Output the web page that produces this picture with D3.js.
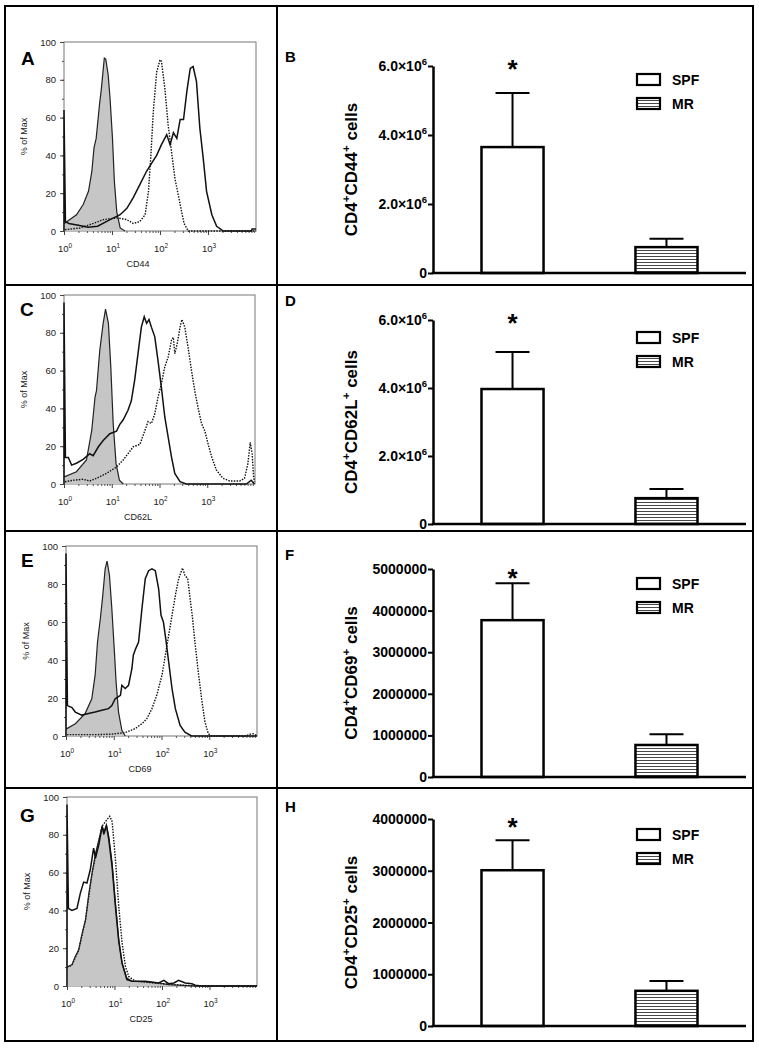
<!DOCTYPE html>
<html><head><meta charset="utf-8">
<script src="https://cdn.jsdelivr.net/npm/d3@7"></script>
<style>body{margin:0;background:#fff}svg{display:block}</style>
</head><body>
<svg id="fig" width="759" height="1050"></svg>
<script>
// ---------------- DATA ----------------
// Histograms: [log10 fluorescence, % of Max]
const cd44Iso = [[0,4],[0.02,4.2],[0.26,8.6],[0.40,14],[0.51,21],[0.58,31.5],[0.625,44],[0.67,49],[0.74,67],[0.78,75.6],[0.84,91.5],[0.87,91],[0.92,82.7],[0.96,70],[1.01,49],[1.05,26],[1.10,10],[1.17,1.6],[1.27,0]];
const cd44Solid = [[0,0],[0,64],[0.03,5],[0.1,4],[0.3,3],[0.5,2],[0.7,2.5],[0.96,6],[1.17,8.6],[1.31,12],[1.44,17.5],[1.58,24.5],[1.72,31.6],[1.83,36],[1.93,40],[2.03,45.7],[2.14,51],[2.21,45.7],[2.28,52],[2.35,49],[2.42,59],[2.49,59],[2.56,74],[2.63,86],[2.69,87],[2.76,79],[2.83,54.5],[2.90,38.6],[2.97,21],[3.08,8.6],[3.18,2.5],[3.32,0],[3.9,0],[3.92,1],[4,1]];
const cd44Dotted = [[0.02,0.7],[0.33,1.6],[0.61,4],[0.82,6],[1.10,7],[1.31,6],[1.44,4],[1.58,5],[1.69,8.6],[1.76,21],[1.81,40],[1.86,63],[1.93,84],[2.0,90.6],[2.03,89.8],[2.10,75.7],[2.17,56],[2.24,42],[2.31,28],[2.42,14],[2.5,4],[2.59,0],[4,0]];

const cd62lIso = [[0,4],[0.02,3.9],[0.26,6.5],[0.47,12.7],[0.58,28.2],[0.65,46],[0.68,49.4],[0.75,70.9],[0.82,85],[0.87,92.5],[0.93,85],[0.98,62],[1.03,32],[1.09,10.9],[1.16,2],[1.24,0]];
const cd62lSolid = [[0,0],[0,96],[0.03,14],[0.09,14],[0.16,10],[0.26,11],[0.40,13],[0.54,16],[0.61,15],[0.72,19.7],[0.82,23],[0.96,26.6],[1.10,28],[1.17,31.6],[1.24,34],[1.34,39],[1.41,44],[1.48,55],[1.55,69],[1.62,83],[1.68,88.5],[1.73,85],[1.78,87],[1.83,83],[1.90,78],[1.97,65],[2.04,51],[2.11,35.6],[2.18,25],[2.25,14.5],[2.32,5.6],[2.43,1.2],[2.56,0],[3.82,0],[3.92,2],[3.99,0]];
const cd62lDotted = [[0.02,1.2],[0.195,2],[0.40,2.5],[0.54,1.6],[0.68,3],[0.89,5.6],[1.10,9],[1.24,12.7],[1.34,16],[1.45,19.7],[1.59,21],[1.69,28],[1.76,33],[1.83,32],[1.90,37],[1.97,46],[2.04,53],[2.11,62],[2.18,67],[2.25,76],[2.29,77.6],[2.32,69],[2.37,74],[2.43,83],[2.47,87],[2.53,83],[2.60,72],[2.67,60],[2.74,49],[2.81,40],[2.88,32],[2.95,28],[3.02,21],[3.09,14.5],[3.19,7.4],[3.33,3],[3.47,1.6],[3.68,1.6],[3.78,3],[3.85,10.6],[3.90,22],[3.94,16],[3.97,4],[3.99,1.2]];

const cd69Iso = [[0,3.9],[0.02,3.9],[0.195,6.5],[0.40,11.8],[0.54,19.6],[0.61,32],[0.66,49.5],[0.72,62],[0.77,74],[0.82,88],[0.86,92],[0.91,84.6],[0.96,67],[1.01,46],[1.05,28],[1.10,12.6],[1.17,3],[1.24,0]];
const cd69Solid = [[0,0],[0,96],[0.03,16],[0.125,15],[0.195,12.6],[0.33,11],[0.47,11.8],[0.61,12.6],[0.75,13.5],[0.89,14.4],[0.96,16],[1.03,19.6],[1.14,21.4],[1.17,26.7],[1.24,25],[1.31,26.7],[1.38,35.4],[1.41,42.5],[1.46,46],[1.52,49.5],[1.59,67],[1.66,82.8],[1.73,87],[1.80,88],[1.87,87],[1.94,77.5],[1.99,63.5],[2.04,60],[2.09,51],[2.15,39],[2.22,25],[2.29,14.4],[2.39,5.6],[2.49,2],[2.63,0],[4,0]];
const cd69Dotted = [[0.02,0.7],[0.61,0.7],[0.96,1],[1.24,1.8],[1.45,3.9],[1.59,6.5],[1.69,9],[1.80,14.4],[1.90,21.4],[2.01,32],[2.08,42.5],[2.15,53],[2.22,63.5],[2.29,74],[2.36,82.8],[2.44,88.4],[2.49,84.6],[2.55,82.8],[2.60,72],[2.65,62],[2.70,49.5],[2.77,33.7],[2.84,19.6],[2.91,7.4],[2.98,1.2],[3.05,0],[3.75,0],[3.85,0.9],[3.92,1.2],[3.99,0.3]];

const cd25Iso = [[0,10.4],[0.035,10.4],[0.105,11.3],[0.175,15.7],[0.245,19],[0.32,28],[0.39,35],[0.46,49],[0.53,60],[0.60,70],[0.67,77],[0.74,84.5],[0.79,81],[0.83,85],[0.88,79],[0.95,65],[1.02,44],[1.09,24.5],[1.16,12],[1.26,4.2],[1.37,2.5],[1.65,2.3],[1.93,1.6],[2.14,0.7],[2.70,0],[4,0]];
const cd25Solid = [[0,0],[0,96],[0.03,41],[0.105,40],[0.21,41],[0.28,49],[0.35,55],[0.42,54.5],[0.49,61.5],[0.56,73],[0.60,67.7],[0.67,74.8],[0.74,84.5],[0.77,81],[0.83,85],[0.88,77.4],[0.95,63],[1.02,42],[1.09,23.6],[1.16,12],[1.26,3.4],[1.37,2.5],[1.65,2.5],[1.93,1.6],[2.04,3],[2.14,1.2],[2.25,1.6],[2.35,3],[2.49,1.6],[2.63,1.2],[2.70,0.4],[2.84,0],[4,0]];
const cd25Dotted = [[0,10],[0.105,11],[0.245,19],[0.39,35],[0.53,60],[0.67,77],[0.74,84.5],[0.84,88],[0.90,89.8],[0.95,87],[1.02,67],[1.09,42],[1.16,22.7],[1.23,10.4],[1.30,5],[1.44,2.5],[2.0,1.2],[2.70,0],[4,0]];

const histYTicks = [0, 20, 40, 60, 80, 100];
const histXTicks = [1, 10, 100, 1000];
const histXTickExp = ["0", "1", "2", "3"];

// Bar charts
const groups = ["SPF", "MR"];
const cd44Mean = [3650000, 750000];
const cd44Sem = [1570000, 240000];
const cd62lMean = [3970000, 760000];
const cd62lSem = [1090000, 270000];
const cd69Mean = [3770000, 770000];
const cd69Sem = [890000, 260000];
const cd25Mean = [3010000, 680000];
const cd25Sem = [580000, 190000];

const sciTicks = [0, 2000000, 4000000, 6000000];
const sciTickLabels = [["0", ""], ["2.0\u00d710", "6"], ["4.0\u00d710", "6"], ["6.0\u00d710", "6"]];
const cd69Ticks = [0, 1000000, 2000000, 3000000, 4000000, 5000000];
const cd69TickLabels = [["0",""],["1000000",""],["2000000",""],["3000000",""],["4000000",""],["5000000",""]];
const cd25Ticks = [0, 1000000, 2000000, 3000000, 4000000];
const cd25TickLabels = [["0",""],["1000000",""],["2000000",""],["3000000",""],["4000000",""]];

// ---------------- DRAW ----------------
const FONT = "'Liberation Sans', Arial, Helvetica, sans-serif";
const svg = d3.select("#fig").style("font-family", FONT);

const defs = svg.append("defs");
const pat = defs.append("pattern").attr("id", "hatch").attr("patternUnits", "userSpaceOnUse")
  .attr("width", 8).attr("height", 3);
pat.append("rect").attr("width", 8).attr("height", 3).attr("fill", "#fff");
pat.append("line").attr("x1", 0).attr("x2", 8).attr("y1", 1.5).attr("y2", 1.5)
  .attr("stroke", "#333").attr("stroke-width", 0.9);

// grid
const grid = svg.append("g").attr("fill", "none").attr("stroke", "#000").attr("stroke-width", 2);
grid.append("rect").attr("x", 5).attr("y", 6).attr("width", 748).attr("height", 1035);
grid.append("line").attr("x1", 277).attr("x2", 277).attr("y1", 6).attr("y2", 1041);
[285, 531, 788].forEach(yy => grid.append("line").attr("x1", 5).attr("x2", 753).attr("y1", yy).attr("y2", yy));

function rich(textSel, parts, fs) {
  let up = false;
  parts.forEach(p => {
    if (!p[0]) return;
    const t = textSel.append("tspan").text(p[0]);
    if (p[1]) { t.attr("font-size", fs * 0.68).attr("dy", -fs * 0.42); up = true; }
    else if (up) { t.attr("dy", fs * 0.42); up = false; }
  });
}

// ---- Histograms ----
const histPanels = [
  {letter: "A", lx: 21, ly: 65, left: 64, right: 256, top: 42, bottom: 231, title: "CD44", iso: cd44Iso, solid: cd44Solid, dotted: cd44Dotted},
  {letter: "C", lx: 20, ly: 316, left: 64, right: 255, top: 295, bottom: 484, title: "CD62L", iso: cd62lIso, solid: cd62lSolid, dotted: cd62lDotted},
  {letter: "E", lx: 21, ly: 567, left: 66, right: 257, top: 546, bottom: 736, title: "CD69", iso: cd69Iso, solid: cd69Solid, dotted: cd69Dotted},
  {letter: "G", lx: 20, ly: 822, left: 67, right: 257, top: 797, bottom: 986, title: "CD25", iso: cd25Iso, solid: cd25Solid, dotted: cd25Dotted}
];

histPanels.forEach(p => {
  const g = svg.append("g");
  const x = d3.scaleLog().domain([1, 10000]).range([p.left, p.right]);
  const y = d3.scaleLinear().domain([0, 100]).range([p.bottom, p.top]);
  const px = d => x(Math.pow(10, d[0]));

  g.append("rect").attr("x", p.left).attr("y", p.top).attr("width", p.right - p.left).attr("height", p.bottom - p.top)
    .attr("fill", "none").attr("stroke", "#777").attr("stroke-width", 1);

  const yMinor = y.ticks(10);
  g.append("g").attr("transform", `translate(${p.left},0)`)
    .call(d3.axisLeft(y).tickValues(yMinor).tickSize(2).tickFormat(""))
    .call(a => a.select(".domain").remove()).selectAll("line").attr("stroke", "#555");
  const ya = g.append("g").attr("transform", `translate(${p.left},0)`)
    .call(d3.axisLeft(y).tickValues(histYTicks).tickSize(4).tickPadding(4));
  ya.select(".domain").remove();
  ya.selectAll("line").attr("stroke", "#444");
  ya.selectAll("text").attr("font-size", 9.5).attr("fill", "#222").attr("font-family", FONT);

  const xMinor = x.ticks().filter(v => histXTicks.indexOf(v) < 0 && v < 10000);
  g.append("g").attr("transform", `translate(0,${p.bottom})`)
    .call(d3.axisBottom(x).tickValues(xMinor).tickSize(2).tickFormat(""))
    .call(a => a.select(".domain").remove()).selectAll("line").attr("stroke", "#555");
  const xa = g.append("g").attr("transform", `translate(0,${p.bottom})`)
    .call(d3.axisBottom(x).tickValues(histXTicks).tickSize(4).tickFormat(""));
  xa.select(".domain").remove();
  xa.selectAll("line").attr("stroke", "#444");
  histXTicks.forEach((v, i) => {
    const t = g.append("text").attr("x", x(v) + 1).attr("y", p.bottom + 21).attr("text-anchor", "middle")
      .attr("font-size", 9.5).attr("fill", "#222");
    rich(t, [["10", false], [histXTickExp[i], true]], 9.5);
  });

  g.append("text").attr("x", p.left + 74).attr("y", p.bottom + 36).attr("text-anchor", "middle")
    .attr("font-size", 9).attr("fill", "#222").text(p.title);
  const cy = (p.top + p.bottom) / 2;
  g.append("text").attr("transform", `translate(${p.left - 37},${cy}) rotate(-90)`).attr("text-anchor", "middle")
    .attr("font-size", 9).attr("fill", "#222").text("% of Max");
  svg.append("text").attr("x", p.lx).attr("y", p.ly).attr("font-size", 19).attr("font-weight", "bold").text(p.letter);

  const area = d3.area().x(px).y0(y(0)).y1(d => y(d[1]));
  const line = d3.line().x(px).y(d => y(d[1]));
  g.append("path").datum(p.iso).attr("d", area).attr("fill", "#c6c6c6").attr("stroke", "none");
  g.append("path").datum(p.dotted).attr("d", line).attr("fill", "none").attr("stroke", "#111")
    .attr("stroke-width", 1.4).attr("stroke-dasharray", "1.5 1.3");
  g.append("path").datum(p.iso).attr("d", line).attr("fill", "none").attr("stroke", "#222").attr("stroke-width", 1.2);
  g.append("path").datum(p.solid).attr("d", line).attr("fill", "none").attr("stroke", "#111").attr("stroke-width", 1.5);
});

// ---- Bar charts ----
const barPanels = [
  {letter: "B", ly: 62, y0: 273, yTop: 66, max: 6000000, ticks: sciTicks, labels: sciTickLabels, marker: "CD44", mean: cd44Mean, sem: cd44Sem, starTop: 59, legendTop: 74},
  {letter: "D", ly: 306, y0: 524, yTop: 320, max: 6000000, ticks: sciTicks, labels: sciTickLabels, marker: "CD62L", mean: cd62lMean, sem: cd62lSem, starTop: 313, legendTop: 332},
  {letter: "F", ly: 560, y0: 777, yTop: 569, max: 5000000, ticks: cd69Ticks, labels: cd69TickLabels, marker: "CD69", mean: cd69Mean, sem: cd69Sem, starTop: 568, legendTop: 578},
  {letter: "H", ly: 812, y0: 1026, yTop: 819, max: 4000000, ticks: cd25Ticks, labels: cd25TickLabels, marker: "CD25", mean: cd25Mean, sem: cd25Sem, starTop: 817, legendTop: 829}
];
const axisX = 433, axisRight = 746;

barPanels.forEach(p => {
  const g = svg.append("g");
  const y = d3.scaleLinear().domain([0, p.max]).range([p.y0, p.yTop]);
  const x = d3.scaleBand().domain(groups).range([axisX, axisRight]).paddingInner(0.597).paddingOuter(0.315);

  svg.append("text").attr("x", 285).attr("y", p.ly).attr("font-size", 15).attr("font-weight", "bold").text(p.letter);

  groups.forEach((grp, i) => {
    const m = p.mean[i], s = p.sem[i];
    const cx = x(grp) + x.bandwidth() / 2;
    g.append("line").attr("x1", cx).attr("x2", cx).attr("y1", y(m)).attr("y2", y(m + s))
      .attr("stroke", "#000").attr("stroke-width", 2);
    g.append("line").attr("x1", cx - 17).attr("x2", cx + 17).attr("y1", y(m + s)).attr("y2", y(m + s))
      .attr("stroke", "#000").attr("stroke-width", 2);
    g.append("rect").attr("x", x(grp)).attr("y", y(m)).attr("width", x.bandwidth()).attr("height", p.y0 - y(m))
      .attr("fill", i === 0 ? "#fff" : "url(#hatch)").attr("stroke", "#000").attr("stroke-width", 2.5);
  });

  const c0 = x(groups[0]) + x.bandwidth() / 2;
  g.append("text").attr("x", c0).attr("y", p.starTop + 19).attr("text-anchor", "middle")
    .attr("font-size", 26).attr("font-weight", "bold").text("*");

  const ya = g.append("g").attr("transform", `translate(${axisX},0)`)
    .call(d3.axisLeft(y).tickValues(p.ticks).tickSize(5).tickSizeOuter(0).tickFormat(""));
  ya.select(".domain").attr("stroke-width", 2.5);
  ya.selectAll(".tick line").attr("stroke-width", 2);
  p.ticks.forEach((v, i) => {
    const t = g.append("text").attr("x", axisX - 6).attr("y", y(v)).attr("dy", "0.36em").attr("text-anchor", "end")
      .attr("font-size", 14).attr("font-weight", "bold");
    rich(t, [[p.labels[i][0], false], [p.labels[i][1], true]], 14);
  });
  g.append("line").attr("x1", axisX - 1.25).attr("x2", axisRight).attr("y1", p.y0).attr("y2", p.y0)
    .attr("stroke", "#000").attr("stroke-width", 2.5);

  const cy = (p.y0 + p.yTop) / 2;
  const tt = g.append("text").attr("transform", `translate(357,${cy}) rotate(-90)`).attr("text-anchor", "middle")
    .attr("font-size", 17).attr("font-weight", "bold");
  rich(tt, [["CD4", false], ["+", true], [p.marker, false], ["+", true], [" cells", false]], 17);

  groups.forEach((grp, i) => {
    const ty = p.legendTop + i * 24;
    g.append("rect").attr("x", 637).attr("y", ty).attr("width", 23).attr("height", 11)
      .attr("fill", i === 0 ? "#fff" : "url(#hatch)").attr("stroke", "#000").attr("stroke-width", 2.2);
    g.append("text").attr("x", 672).attr("y", ty + 11).attr("font-size", 14).attr("font-weight", "bold").text(grp);
  });
});
</script>
</body></html>
